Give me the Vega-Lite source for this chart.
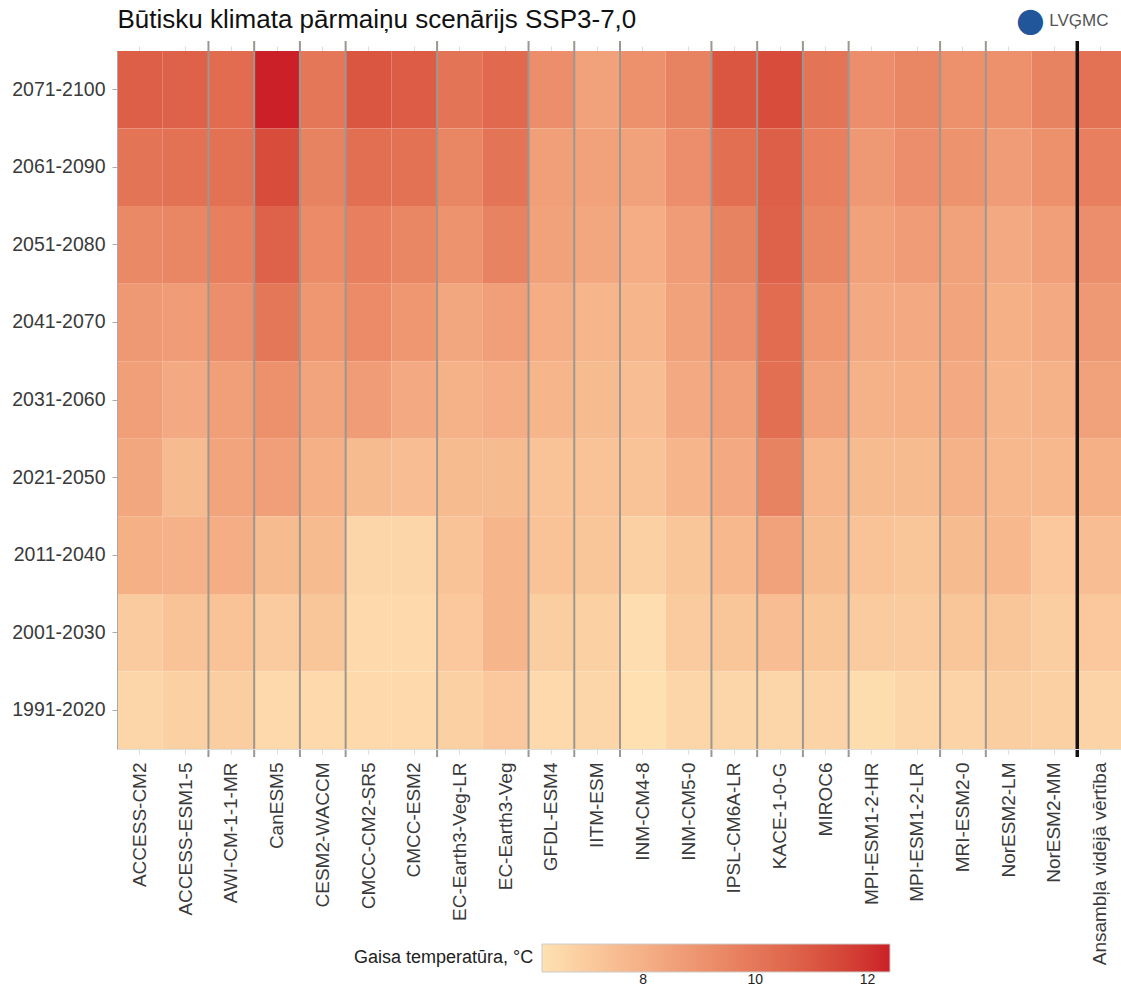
{
  "$schema": "https://vega.github.io/schema/vega-lite/v6.json",
  "width": 1006,
  "height": 698,
  "autosize": "none",
  "padding": {"left": 117, "top": 51, "right": 0, "bottom": 238},
  "background": "white",
  "config": {"view": {"stroke": null}, "font": "Liberation Sans"},
  "datasets": {
    "temps": [
      {"model":"ACCESS-CM2","period":"2071-2100","temp":10.8},{"model":"ACCESS-CM2","period":"2061-2090","temp":10.1},{"model":"ACCESS-CM2","period":"2051-2080","temp":9.4},{"model":"ACCESS-CM2","period":"2041-2070","temp":8.8},{"model":"ACCESS-CM2","period":"2031-2060","temp":8.6},{"model":"ACCESS-CM2","period":"2021-2050","temp":8.3},{"model":"ACCESS-CM2","period":"2011-2040","temp":8.0},{"model":"ACCESS-CM2","period":"2001-2030","temp":7.0},{"model":"ACCESS-CM2","period":"1991-2020","temp":6.6},
      {"model":"ACCESS-ESM1-5","period":"2071-2100","temp":10.7},{"model":"ACCESS-ESM1-5","period":"2061-2090","temp":10.2},{"model":"ACCESS-ESM1-5","period":"2051-2080","temp":9.5},{"model":"ACCESS-ESM1-5","period":"2041-2070","temp":8.7},{"model":"ACCESS-ESM1-5","period":"2031-2060","temp":8.2},{"model":"ACCESS-ESM1-5","period":"2021-2050","temp":7.6},{"model":"ACCESS-ESM1-5","period":"2011-2040","temp":7.9},{"model":"ACCESS-ESM1-5","period":"2001-2030","temp":7.3},{"model":"ACCESS-ESM1-5","period":"1991-2020","temp":6.8},
      {"model":"AWI-CM-1-1-MR","period":"2071-2100","temp":10.4},{"model":"AWI-CM-1-1-MR","period":"2061-2090","temp":10.2},{"model":"AWI-CM-1-1-MR","period":"2051-2080","temp":9.7},{"model":"AWI-CM-1-1-MR","period":"2041-2070","temp":9.2},{"model":"AWI-CM-1-1-MR","period":"2031-2060","temp":8.6},{"model":"AWI-CM-1-1-MR","period":"2021-2050","temp":8.4},{"model":"AWI-CM-1-1-MR","period":"2011-2040","temp":8.1},{"model":"AWI-CM-1-1-MR","period":"2001-2030","temp":7.3},{"model":"AWI-CM-1-1-MR","period":"1991-2020","temp":6.9},
      {"model":"CanESM5","period":"2071-2100","temp":12.4},{"model":"CanESM5","period":"2061-2090","temp":11.4},{"model":"CanESM5","period":"2051-2080","temp":10.7},{"model":"CanESM5","period":"2041-2070","temp":10.0},{"model":"CanESM5","period":"2031-2060","temp":9.1},{"model":"CanESM5","period":"2021-2050","temp":8.6},{"model":"CanESM5","period":"2011-2040","temp":7.6},{"model":"CanESM5","period":"2001-2030","temp":7.0},{"model":"CanESM5","period":"1991-2020","temp":6.5},
      {"model":"CESM2-WACCM","period":"2071-2100","temp":10.0},{"model":"CESM2-WACCM","period":"2061-2090","temp":9.6},{"model":"CESM2-WACCM","period":"2051-2080","temp":9.3},{"model":"CESM2-WACCM","period":"2041-2070","temp":8.9},{"model":"CESM2-WACCM","period":"2031-2060","temp":8.4},{"model":"CESM2-WACCM","period":"2021-2050","temp":8.0},{"model":"CESM2-WACCM","period":"2011-2040","temp":7.6},{"model":"CESM2-WACCM","period":"2001-2030","temp":7.2},{"model":"CESM2-WACCM","period":"1991-2020","temp":6.5},
      {"model":"CMCC-CM2-SR5","period":"2071-2100","temp":11.1},{"model":"CMCC-CM2-SR5","period":"2061-2090","temp":10.3},{"model":"CMCC-CM2-SR5","period":"2051-2080","temp":9.7},{"model":"CMCC-CM2-SR5","period":"2041-2070","temp":9.3},{"model":"CMCC-CM2-SR5","period":"2031-2060","temp":8.7},{"model":"CMCC-CM2-SR5","period":"2021-2050","temp":7.6},{"model":"CMCC-CM2-SR5","period":"2011-2040","temp":6.6},{"model":"CMCC-CM2-SR5","period":"2001-2030","temp":6.5},{"model":"CMCC-CM2-SR5","period":"1991-2020","temp":6.5},
      {"model":"CMCC-ESM2","period":"2071-2100","temp":10.9},{"model":"CMCC-ESM2","period":"2061-2090","temp":10.2},{"model":"CMCC-ESM2","period":"2051-2080","temp":9.5},{"model":"CMCC-ESM2","period":"2041-2070","temp":8.9},{"model":"CMCC-ESM2","period":"2031-2060","temp":8.2},{"model":"CMCC-ESM2","period":"2021-2050","temp":7.5},{"model":"CMCC-ESM2","period":"2011-2040","temp":6.6},{"model":"CMCC-ESM2","period":"2001-2030","temp":6.5},{"model":"CMCC-ESM2","period":"1991-2020","temp":6.5},
      {"model":"EC-Earth3-Veg-LR","period":"2071-2100","temp":10.1},{"model":"EC-Earth3-Veg-LR","period":"2061-2090","temp":9.5},{"model":"EC-Earth3-Veg-LR","period":"2051-2080","temp":9.0},{"model":"EC-Earth3-Veg-LR","period":"2041-2070","temp":8.3},{"model":"EC-Earth3-Veg-LR","period":"2031-2060","temp":7.9},{"model":"EC-Earth3-Veg-LR","period":"2021-2050","temp":7.6},{"model":"EC-Earth3-Veg-LR","period":"2011-2040","temp":7.3},{"model":"EC-Earth3-Veg-LR","period":"2001-2030","temp":7.1},{"model":"EC-Earth3-Veg-LR","period":"1991-2020","temp":6.8},
      {"model":"EC-Earth3-Veg","period":"2071-2100","temp":10.5},{"model":"EC-Earth3-Veg","period":"2061-2090","temp":10.1},{"model":"EC-Earth3-Veg","period":"2051-2080","temp":9.6},{"model":"EC-Earth3-Veg","period":"2041-2070","temp":8.6},{"model":"EC-Earth3-Veg","period":"2031-2060","temp":8.1},{"model":"EC-Earth3-Veg","period":"2021-2050","temp":7.6},{"model":"EC-Earth3-Veg","period":"2011-2040","temp":7.8},{"model":"EC-Earth3-Veg","period":"2001-2030","temp":7.8},{"model":"EC-Earth3-Veg","period":"1991-2020","temp":7.1},
      {"model":"GFDL-ESM4","period":"2071-2100","temp":9.2},{"model":"GFDL-ESM4","period":"2061-2090","temp":8.6},{"model":"GFDL-ESM4","period":"2051-2080","temp":8.5},{"model":"GFDL-ESM4","period":"2041-2070","temp":8.1},{"model":"GFDL-ESM4","period":"2031-2060","temp":7.8},{"model":"GFDL-ESM4","period":"2021-2050","temp":7.3},{"model":"GFDL-ESM4","period":"2011-2040","temp":7.3},{"model":"GFDL-ESM4","period":"2001-2030","temp":6.9},{"model":"GFDL-ESM4","period":"1991-2020","temp":6.5},
      {"model":"IITM-ESM","period":"2071-2100","temp":8.5},{"model":"IITM-ESM","period":"2061-2090","temp":8.5},{"model":"IITM-ESM","period":"2051-2080","temp":8.3},{"model":"IITM-ESM","period":"2041-2070","temp":7.8},{"model":"IITM-ESM","period":"2031-2060","temp":7.6},{"model":"IITM-ESM","period":"2021-2050","temp":7.3},{"model":"IITM-ESM","period":"2011-2040","temp":7.2},{"model":"IITM-ESM","period":"2001-2030","temp":6.8},{"model":"IITM-ESM","period":"1991-2020","temp":6.6},
      {"model":"INM-CM4-8","period":"2071-2100","temp":9.1},{"model":"INM-CM4-8","period":"2061-2090","temp":8.5},{"model":"INM-CM4-8","period":"2051-2080","temp":8.1},{"model":"INM-CM4-8","period":"2041-2070","temp":7.8},{"model":"INM-CM4-8","period":"2031-2060","temp":7.5},{"model":"INM-CM4-8","period":"2021-2050","temp":7.3},{"model":"INM-CM4-8","period":"2011-2040","temp":6.8},{"model":"INM-CM4-8","period":"2001-2030","temp":6.3},{"model":"INM-CM4-8","period":"1991-2020","temp":6.25},
      {"model":"INM-CM5-0","period":"2071-2100","temp":9.6},{"model":"INM-CM5-0","period":"2061-2090","temp":9.2},{"model":"INM-CM5-0","period":"2051-2080","temp":8.7},{"model":"INM-CM5-0","period":"2041-2070","temp":8.5},{"model":"INM-CM5-0","period":"2031-2060","temp":8.2},{"model":"INM-CM5-0","period":"2021-2050","temp":7.8},{"model":"INM-CM5-0","period":"2011-2040","temp":7.2},{"model":"INM-CM5-0","period":"2001-2030","temp":7.0},{"model":"INM-CM5-0","period":"1991-2020","temp":6.6},
      {"model":"IPSL-CM6A-LR","period":"2071-2100","temp":11.1},{"model":"IPSL-CM6A-LR","period":"2061-2090","temp":10.3},{"model":"IPSL-CM6A-LR","period":"2051-2080","temp":9.6},{"model":"IPSL-CM6A-LR","period":"2041-2070","temp":9.2},{"model":"IPSL-CM6A-LR","period":"2031-2060","temp":8.6},{"model":"IPSL-CM6A-LR","period":"2021-2050","temp":8.2},{"model":"IPSL-CM6A-LR","period":"2011-2040","temp":7.7},{"model":"IPSL-CM6A-LR","period":"2001-2030","temp":7.2},{"model":"IPSL-CM6A-LR","period":"1991-2020","temp":6.6},
      {"model":"KACE-1-0-G","period":"2071-2100","temp":11.4},{"model":"KACE-1-0-G","period":"2061-2090","temp":10.8},{"model":"KACE-1-0-G","period":"2051-2080","temp":10.7},{"model":"KACE-1-0-G","period":"2041-2070","temp":10.4},{"model":"KACE-1-0-G","period":"2031-2060","temp":10.3},{"model":"KACE-1-0-G","period":"2021-2050","temp":9.6},{"model":"KACE-1-0-G","period":"2011-2040","temp":8.5},{"model":"KACE-1-0-G","period":"2001-2030","temp":7.5},{"model":"KACE-1-0-G","period":"1991-2020","temp":6.6},
      {"model":"MIROC6","period":"2071-2100","temp":10.1},{"model":"MIROC6","period":"2061-2090","temp":9.7},{"model":"MIROC6","period":"2051-2080","temp":9.5},{"model":"MIROC6","period":"2041-2070","temp":8.9},{"model":"MIROC6","period":"2031-2060","temp":8.5},{"model":"MIROC6","period":"2021-2050","temp":7.8},{"model":"MIROC6","period":"2011-2040","temp":7.6},{"model":"MIROC6","period":"2001-2030","temp":7.2},{"model":"MIROC6","period":"1991-2020","temp":6.7},
      {"model":"MPI-ESM1-2-HR","period":"2071-2100","temp":9.2},{"model":"MPI-ESM1-2-HR","period":"2061-2090","temp":8.8},{"model":"MPI-ESM1-2-HR","period":"2051-2080","temp":8.5},{"model":"MPI-ESM1-2-HR","period":"2041-2070","temp":8.2},{"model":"MPI-ESM1-2-HR","period":"2031-2060","temp":7.9},{"model":"MPI-ESM1-2-HR","period":"2021-2050","temp":7.6},{"model":"MPI-ESM1-2-HR","period":"2011-2040","temp":7.3},{"model":"MPI-ESM1-2-HR","period":"2001-2030","temp":7.0},{"model":"MPI-ESM1-2-HR","period":"1991-2020","temp":6.4},
      {"model":"MPI-ESM1-2-LR","period":"2071-2100","temp":9.5},{"model":"MPI-ESM1-2-LR","period":"2061-2090","temp":9.2},{"model":"MPI-ESM1-2-LR","period":"2051-2080","temp":8.7},{"model":"MPI-ESM1-2-LR","period":"2041-2070","temp":8.2},{"model":"MPI-ESM1-2-LR","period":"2031-2060","temp":8.0},{"model":"MPI-ESM1-2-LR","period":"2021-2050","temp":7.6},{"model":"MPI-ESM1-2-LR","period":"2011-2040","temp":7.2},{"model":"MPI-ESM1-2-LR","period":"2001-2030","temp":7.0},{"model":"MPI-ESM1-2-LR","period":"1991-2020","temp":6.6},
      {"model":"MRI-ESM2-0","period":"2071-2100","temp":9.1},{"model":"MRI-ESM2-0","period":"2061-2090","temp":9.0},{"model":"MRI-ESM2-0","period":"2051-2080","temp":8.5},{"model":"MRI-ESM2-0","period":"2041-2070","temp":8.4},{"model":"MRI-ESM2-0","period":"2031-2060","temp":8.2},{"model":"MRI-ESM2-0","period":"2021-2050","temp":7.9},{"model":"MRI-ESM2-0","period":"2011-2040","temp":7.6},{"model":"MRI-ESM2-0","period":"2001-2030","temp":7.2},{"model":"MRI-ESM2-0","period":"1991-2020","temp":6.7},
      {"model":"NorESM2-LM","period":"2071-2100","temp":9.1},{"model":"NorESM2-LM","period":"2061-2090","temp":8.7},{"model":"NorESM2-LM","period":"2051-2080","temp":8.2},{"model":"NorESM2-LM","period":"2041-2070","temp":8.0},{"model":"NorESM2-LM","period":"2031-2060","temp":7.8},{"model":"NorESM2-LM","period":"2021-2050","temp":7.7},{"model":"NorESM2-LM","period":"2011-2040","temp":7.7},{"model":"NorESM2-LM","period":"2001-2030","temp":7.2},{"model":"NorESM2-LM","period":"1991-2020","temp":6.9},
      {"model":"NorESM2-MM","period":"2071-2100","temp":9.6},{"model":"NorESM2-MM","period":"2061-2090","temp":9.1},{"model":"NorESM2-MM","period":"2051-2080","temp":8.6},{"model":"NorESM2-MM","period":"2041-2070","temp":8.2},{"model":"NorESM2-MM","period":"2031-2060","temp":7.9},{"model":"NorESM2-MM","period":"2021-2050","temp":7.7},{"model":"NorESM2-MM","period":"2011-2040","temp":7.1},{"model":"NorESM2-MM","period":"2001-2030","temp":6.9},{"model":"NorESM2-MM","period":"1991-2020","temp":6.8},
      {"model":"Ansambļa vidējā vērtība","period":"2071-2100","temp":10.2},{"model":"Ansambļa vidējā vērtība","period":"2061-2090","temp":9.7},{"model":"Ansambļa vidējā vērtība","period":"2051-2080","temp":9.2},{"model":"Ansambļa vidējā vērtība","period":"2041-2070","temp":8.8},{"model":"Ansambļa vidējā vērtība","period":"2031-2060","temp":8.5},{"model":"Ansambļa vidējā vērtība","period":"2021-2050","temp":8.0},{"model":"Ansambļa vidējā vērtība","period":"2011-2040","temp":7.5},{"model":"Ansambļa vidējā vērtība","period":"2001-2030","temp":7.1},{"model":"Ansambļa vidējā vērtība","period":"1991-2020","temp":6.7}
    ],
    "separators": [
      {"model":"AWI-CM-1-1-MR","kind":"group"},{"model":"CanESM5","kind":"group"},{"model":"CESM2-WACCM","kind":"group"},{"model":"CMCC-CM2-SR5","kind":"group"},{"model":"EC-Earth3-Veg-LR","kind":"group"},{"model":"GFDL-ESM4","kind":"group"},{"model":"IITM-ESM","kind":"group"},{"model":"INM-CM4-8","kind":"group"},{"model":"IPSL-CM6A-LR","kind":"group"},{"model":"KACE-1-0-G","kind":"group"},{"model":"MIROC6","kind":"group"},{"model":"MPI-ESM1-2-HR","kind":"group"},{"model":"MRI-ESM2-0","kind":"group"},{"model":"NorESM2-LM","kind":"group"},{"model":"Ansambļa vidējā vērtība","kind":"ensemble"}
    ]
  },
  "layer": [
    {
      "data": {"name": "temps"},
      "mark": {"type": "rect"},
      "encoding": {
        "x": {"field": "model", "type": "nominal", "title": "LVĢMC",
          "scale": {"domain": ["ACCESS-CM2","ACCESS-ESM1-5","AWI-CM-1-1-MR","CanESM5","CESM2-WACCM","CMCC-CM2-SR5","CMCC-ESM2","EC-Earth3-Veg-LR","EC-Earth3-Veg","GFDL-ESM4","IITM-ESM","INM-CM4-8","INM-CM5-0","IPSL-CM6A-LR","KACE-1-0-G","MIROC6","MPI-ESM1-2-HR","MPI-ESM1-2-LR","MRI-ESM2-0","NorESM2-LM","NorESM2-MM","Ansambļa vidējā vērtība"], "paddingInner": 0, "paddingOuter": 0},
          "axis": {"orient": "bottom", "labelAngle": -90, "labelFontSize": 19, "labelColor": "#3a3a3a", "labelPadding": 8, "tickSize": 5, "tickColor": "#dddddd", "domainColor": "#dddddd", "labelLimit": 300,
            "titleX": 991, "titleY": -729, "titleAlign": "right", "titleBaseline": "middle", "titleFontSize": 17, "titleFontWeight": "normal", "titleColor": "#555555", "titleAngle": 0}},
        "y": {"field": "period", "type": "nominal", "title": "●",
          "scale": {"domain": ["2071-2100","2061-2090","2051-2080","2041-2070","2031-2060","2021-2050","2011-2040","2001-2030","1991-2020"], "paddingInner": 0, "paddingOuter": 0},
          "axis": {"labelFontSize": 19.5, "labelColor": "#3a3a3a", "labelPadding": 7, "tickSize": 5, "tickColor": "#aaaaaa", "domainColor": "#aaaaaa", "titleAngle": 0, "titleX": 913, "titleY": -31, "titleAlign": "center", "titleBaseline": "middle", "titleFontSize": 33, "titleColor": "#21569a", "titleFontWeight": "normal", "titleFont": "DejaVu Sans"}},
        "color": {"field": "temp", "type": "quantitative",
          "scale": {"domain": [6.2, 12.4], "range": ["#fee1b2", "#cb2027"], "interpolate": "lab", "nice": false, "zero": false},
          "legend": {"orient": "none", "legendX": 237, "legendY": 893, "direction": "horizontal", "title": "Gaisa temperatūra, °C", "titleOrient": "left", "titleFontSize": 18, "titleFontWeight": "normal", "titleColor": "#222222", "titlePadding": 8, "titleBaseline": "middle", "labelFontSize": 14, "labelOffset": 1, "labelColor": "#222222", "values": [8, 10, 12], "gradientLength": 348, "gradientThickness": 28, "gradientStrokeColor": "#cccccc", "gradientStrokeWidth": 1, "padding": 0}}
      }
    },
    {
      "data": {"name": "separators"},
      "mark": {"type": "rule"},
      "encoding": {
        "x": {"field": "model", "type": "nominal", "bandPosition": 0, "title": "Būtisku klimata pārmaiņu scenārijs SSP3-7,0",
          "axis": {"orient": "top", "labels": false, "tickSize": 5, "tickColor": "#dddddd", "domainColor": "#dddddd", "titleX": 0, "titleY": -24, "titleAlign": "left", "titleBaseline": "alphabetic", "titleFontSize": 26, "titleFontWeight": "normal", "titleColor": "#111111", "titleAngle": 0}},
        "y": {"value": -10},
        "y2": {"value": 706},
        "color": {"condition": {"test": "datum.kind === 'ensemble'", "value": "#111111"}, "value": "#9c9790"},
        "strokeWidth": {"condition": {"test": "datum.kind === 'ensemble'", "value": 3.5}, "value": 2}
      }
    }
  ],
  "resolve": {"axis": {"x": "independent"}}
}
